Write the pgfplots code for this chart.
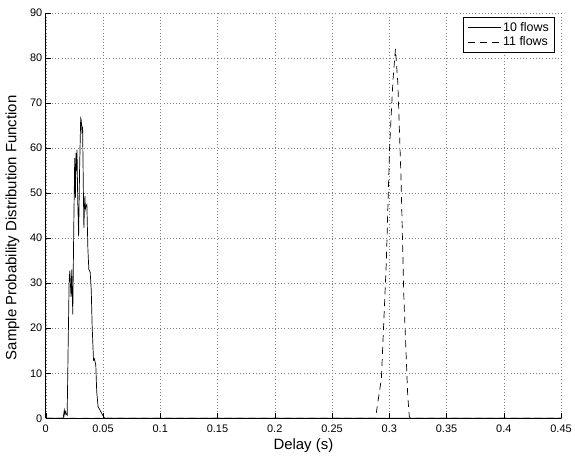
\documentclass[border=0pt]{standalone}
\usepackage{pgfplots}
\pgfplotsset{compat=1.18}
\usepackage{fontspec}
\setmainfont{Liberation Sans}
\begin{document}
\begin{tikzpicture}
\path (0,0) rectangle (575pt,459pt);
\begin{axis}[
  at={(46pt,38.5pt)}, anchor=south west,
  scale only axis, width=518pt, height=407.5pt,
  xmin=0, xmax=0.45, ymin=0, ymax=90,
  axis x line*=bottom, axis y line*=left,
  xtick={0,0.05,0.1,0.15,0.2,0.25,0.3,0.35,0.4,0.45},
  xticklabels={0,0.05,0.1,0.15,0.2,0.25,0.3,0.35,0.4,0.45},
  ytick={0,10,20,30,40,50,60,70,80,90},
  /pgf/number format/assume math mode=true,
  tick align=inside, major tick length=5pt,
  tick style={black, line width=0.5pt},
  axis line style={line width=0.6pt},
  grid=major,
  major grid style={black!50, line width=0.45pt, dash pattern=on 0.6pt off 2.6pt},
  tick label style={font=\fontsize{11}{13}\selectfont},
  xticklabel style={yshift=-3pt},
  xlabel={Delay (s)},
  ylabel={Sample Probability Distribution Function},
  xlabel style={font=\fontsize{15}{17}\selectfont, at={(rel axis cs:0.5,0)}, anchor=base, yshift=-31.5pt},
  ylabel style={font=\fontsize{15}{17}\selectfont, at={([xshift=-23pt]rel axis cs:0,0.47)}, anchor=south},
  legend style={at={(rel axis cs:1,1)}, xshift=-6pt, yshift=-4pt, anchor=north east,
    font=\fontsize{12.5}{14}\selectfont, draw=black, line width=0.6pt,
    inner xsep=4pt, inner ysep=3pt, row sep=0pt},
  legend cell align=left,
  legend image code/.code={\draw[#1, line width=0.6pt] (0pt,0pt) -- (33pt,0pt);},
]
\addplot[black, line width=0.7pt] coordinates {
(0,0) (0.0152,0) (0.0158,1.1) (0.0162,1.8) (0.0167,0.8) (0.0172,1.5) (0.0180,0.9) (0.0187,0.7)
(0.0195,15) (0.0204,30.2) (0.0210,32.8) (0.0215,30) (0.0221,26.9) (0.0227,33) (0.0236,23.1)
(0.0244,41.2) (0.0253,57.8) (0.0259,49) (0.0264,58.9) (0.0268,55) (0.0273,59.6) (0.0279,48.6)
(0.0287,40.4) (0.0296,56) (0.0305,66.6) (0.0310,66.2) (0.0316,63.7) (0.0322,64.4) (0.0328,51.5)
(0.0333,42.3) (0.0338,47) (0.0342,49.3) (0.0346,46.5) (0.0351,47.1) (0.0359,47.5) (0.0368,37.6)
(0.0376,33.1) (0.0388,32.4) (0.0397,28.7) (0.0405,20.6) (0.0417,12.9) (0.0425,13.2) (0.0431,12.5)
(0.0437,11.8) (0.0445,5.9) (0.0457,2.6) (0.0474,1.8) (0.0489,1.1) (0.0503,0.4) (0.0517,0) (0.45,0)
};
\addlegendentry{10 flows}
\addplot[black, line width=0.7pt, dash pattern=on 7pt off 5pt] coordinates {
(0,0) (0.2870,0) (0.2882,0.4) (0.2931,8.8) (0.2974,34.6) (0.3003,60.3) (0.3032,75) (0.3054,82)
(0.3075,74.3) (0.3103,53) (0.3127,27.2) (0.3161,5.1) (0.3175,0.4) (0.3185,0) (0.45,0)
};
\addlegendentry{11 flows}
\end{axis}
\end{tikzpicture}
\end{document}
